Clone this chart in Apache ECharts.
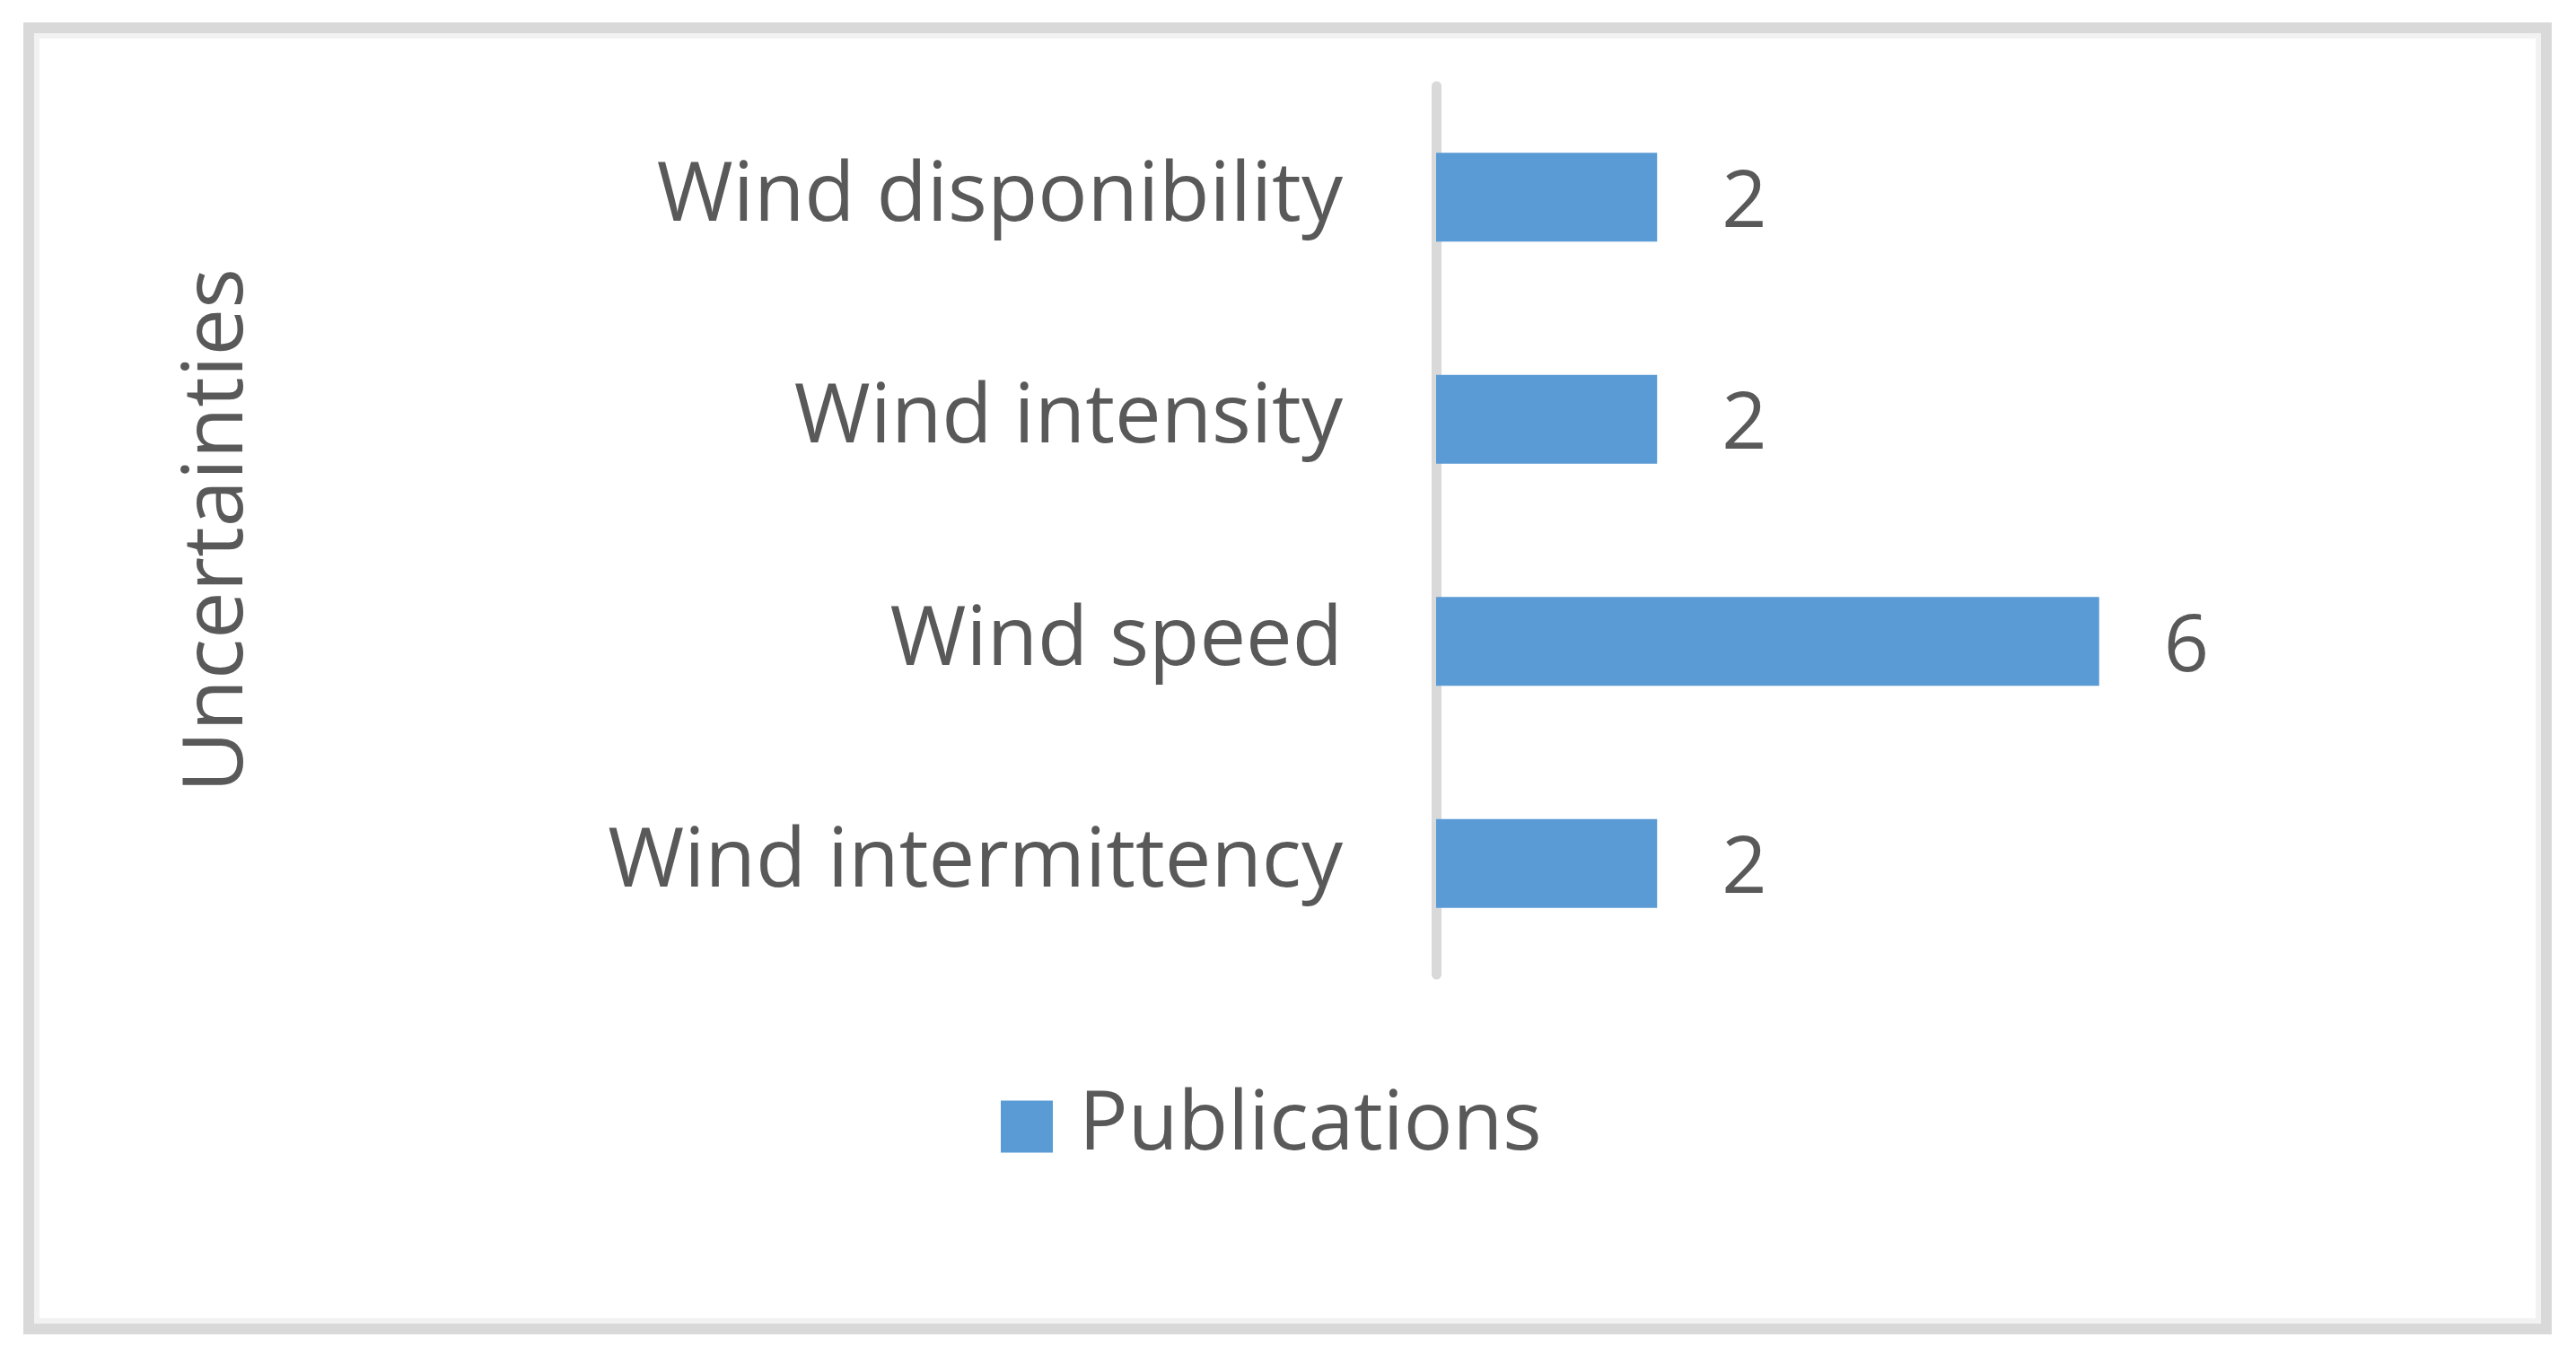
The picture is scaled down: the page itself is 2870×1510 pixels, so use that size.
<!DOCTYPE html>
<html>
<head>
<meta charset="utf-8">
<script src="https://cdn.jsdelivr.net/npm/echarts@6/dist/echarts.min.js"></script>
<style>
  html, body { margin: 0; padding: 0; background: #ffffff; }
  #chart { width: 2870px; height: 1510px; }
</style>
</head>
<body>
<div id="chart"></div>
<script>
// data
const categories = ['Wind disponibility', 'Wind intensity', 'Wind speed', 'Wind intermittency'];
const publications = [2, 2, 6, 2];
const seriesName = 'Publications';
const axisTitle = 'Uncertainties';

const textColor = '#595959';
const fontFamily = '"Open Sans", Lato, sans-serif';

const chart = echarts.init(document.getElementById('chart'));

const option = {
  animation: false,
  color: ['#5b9bd5'],
  graphic: [
    {
      // outer frame
      type: 'rect',
      shape: { x: 32, y: 31, width: 2805, height: 1450 },
      style: { fill: 'none', stroke: '#d9d9d9', lineWidth: 12 }
    },
    {
      type: 'rect',
      shape: { x: 41, y: 40, width: 2787, height: 1432 },
      style: { fill: 'none', stroke: '#f2f2f2', lineWidth: 6 }
    }
  ],
  legend: {
    left: 1110,
    top: 1205,
    itemWidth: 58,
    itemHeight: 58,
    icon: 'rect',
    textStyle: {
      color: textColor,
      fontSize: 91,
      fontFamily: fontFamily,
      padding: [0, 0, 0, 24]
    },
    data: [seriesName]
  },
  grid: {
    left: 1600,
    right: 285,
    top: 96,
    bottom: 424
  },
  xAxis: {
    type: 'value',
    min: 0,
    max: 8,
    show: false
  },
  yAxis: {
    type: 'category',
    data: categories,
    inverse: true,
    name: axisTitle,
    nameLocation: 'middle',
    nameRotate: 90,
    nameGap: 1310,
    nameTextStyle: {
      color: textColor,
      fontSize: 94,
      fontFamily: fontFamily
    },
    axisLine: { lineStyle: { color: '#d9d9d9', width: 11 } },
    axisTick: { show: false },
    axisLabel: {
      color: textColor,
      fontSize: 92,
      fontFamily: fontFamily,
      margin: 104
    }
  },
  series: [
    {
      name: seriesName,
      type: 'bar',
      data: publications,
      barCategoryGap: '60%',
      label: {
        show: true,
        position: 'right',
        distance: 72,
        offset: [0, 8],
        color: textColor,
        fontSize: 88,
        fontFamily: fontFamily
      }
    }
  ]
};

chart.setOption(option);
</script>
</body>
</html>
